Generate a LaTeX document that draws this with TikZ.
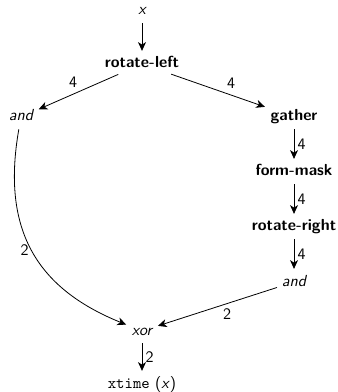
\documentclass[tikz,border=0pt]{standalone}
\usetikzlibrary{arrows.meta}
\renewcommand{\familydefault}{\sfdefault}
\begin{document}
\begin{tikzpicture}[x=0.625pt,y=-0.625pt,
  vtx/.style={anchor=base,inner sep=1pt,text height=7pt,text depth=2pt},
  fn/.style={vtx,font=\bfseries},
  op/.style={vtx,font=\itshape},
  arr/.style={-{Stealth[length=5.5pt,width=5pt,inset=1.6pt]},line width=0.5pt,shorten >=2.5pt,shorten <=2pt},
  lbl/.style={inner sep=2pt}]
\useasboundingbox (0,0) rectangle (337,392);
\node[op] (x) at (142,15) {x};
\node[fn] (rl) at (142,68) {rotate-left};
\node[op] (andL) at (21,121) {and};
\node[fn] (ga) at (294,121) {gather};
\node[fn] (fm) at (294,176) {form-mask};
\node[fn] (rr) at (294,231) {rotate-right};
\node[op] (andR) at (294,286) {and};
\node[op] (xor) at (142,335) {xor};
\node[vtx] (xt) at (142,388) {\texttt{xtime} (\textit{x})};
\draw[arr] (x) -- (rl);
\draw[arr] (rl) -- node[lbl,above left,pos=0.47] {4} (andL);
\draw[arr] (rl) -- node[lbl,above right,pos=0.55] {4} (ga);
\draw[arr] (ga) -- node[lbl,right] {4} (fm);
\draw[arr] (fm) -- node[lbl,right] {4} (rr);
\draw[arr] (rr) -- node[lbl,right] {4} (andR);
\draw[arr] (andL) to[out=-100,in=158,looseness=1.15] node[lbl,left,pos=0.5] {2} (xor);
\draw[arr] (andR) -- node[inner sep=3pt,below,pos=0.42] {2} (xor);
\draw[arr] (xor) -- node[lbl,right] {2} (xt);
\end{tikzpicture}
\end{document}
